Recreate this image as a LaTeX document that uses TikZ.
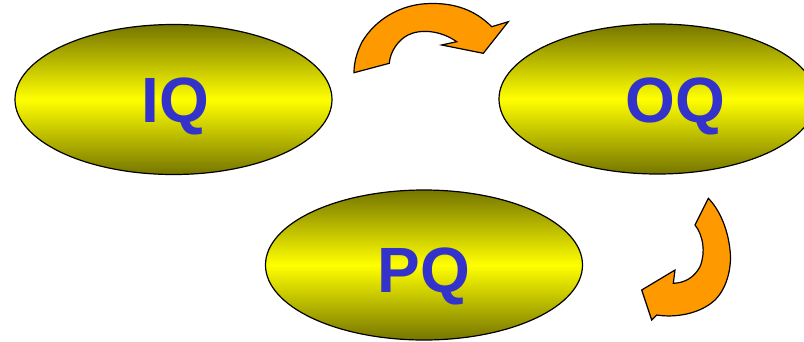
\documentclass[tikz,border=0pt]{standalone}
\usepackage{fontspec}
\setmainfont{Liberation Sans}
\usetikzlibrary{shapes.geometric}
\definecolor{olivedark}{HTML}{757500}
\definecolor{yel}{HTML}{FFFF00}
\definecolor{lbl}{HTML}{3333CC}
\definecolor{arr}{HTML}{FF9900}
\tikzset{
  oval/.style={ellipse, draw=black, line width=1.2pt, minimum width=317pt, minimum height=150pt, inner sep=0pt,
    top color=olivedark, bottom color=olivedark, middle color=yel},
  lab/.style={anchor=base, text=lbl, font=\fontsize{64}{64}\selectfont\bfseries, inner sep=0pt},
  curvearrow/.style={fill=arr, draw=black, line width=1.2pt, line join=miter}
}
\begin{document}
\begin{tikzpicture}[x=1pt,y=-1pt]
\useasboundingbox (0,0) rectangle (804,341);
\clip (0,0) rectangle (804,341);
\node[oval] (iq) at (173.5,99.5) {};
\node[oval] (oq) at (657.5,99) {};
\node[oval] (pq) at (424,265) {};
\node[lab] (iqt) at (175,122) {IQ};
\node[lab] (oqt) at (675,122) {OQ};
\node[lab] (pqt) at (424,292) {PQ};
% top curved arrow
\draw[curvearrow] (354,72.7) -- (389.3,63.3)
  .. controls (390,52) and (398,40) .. (408,35)
  .. controls (420,29) and (440,30) .. (456.7,41.7)
  -- (441.7,45) -- (483.3,53.3) -- (508.3,21.7) -- (491.7,26.7)
  .. controls (475,10) and (455,3) .. (430,3.5)
  .. controls (400,4) and (375,20) .. (362,42)
  .. controls (357,52) and (354,62) .. cycle;
% right curved arrow
\draw[curvearrow] (708.3,198.3) -- (695,225)
  .. controls (703,235) and (706,252) .. (700,266.7)
  .. controls (694,278) and (684,283) .. (673.3,283.3)
  -- (675,270) -- (641.7,290) -- (651.7,320) -- (656.7,315)
  .. controls (675,318) and (700,314) .. (715,300)
  .. controls (728,287) and (732,265) .. (730,250)
  .. controls (728,230) and (720,210) .. cycle;
\end{tikzpicture}
\end{document}
